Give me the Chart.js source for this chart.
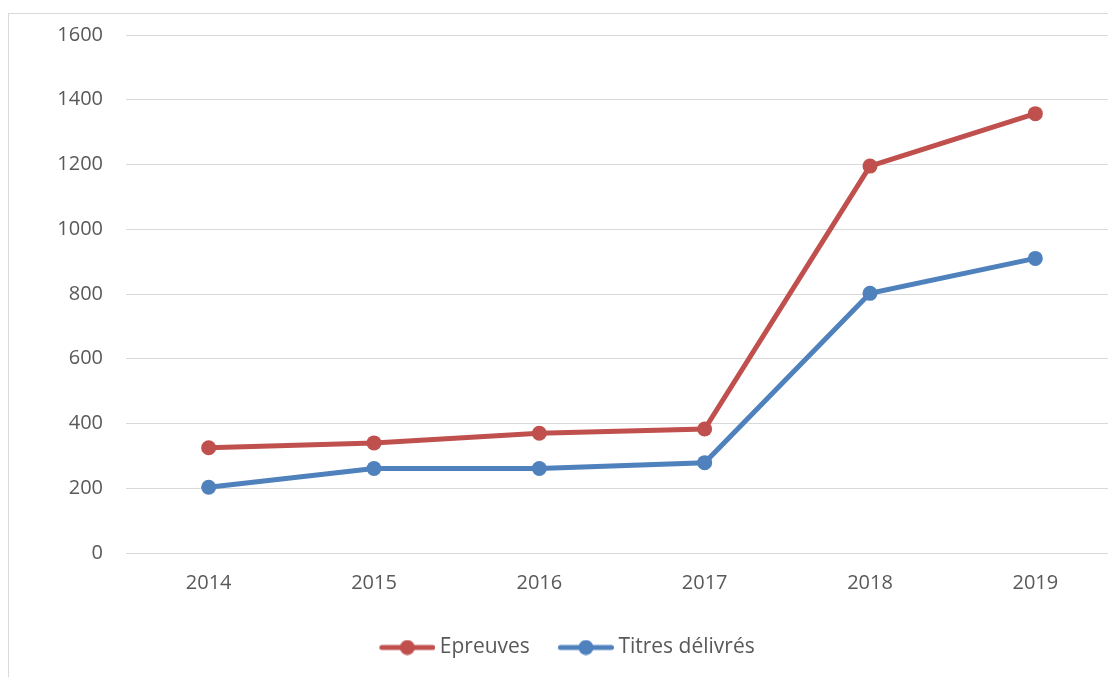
<!DOCTYPE html>
<html>
<head>
<meta charset="utf-8">
<script src="https://cdn.jsdelivr.net/npm/chart.js@4"></script>
<style>
  html, body { margin: 0; padding: 0; background: #fff; overflow: hidden; width: 1108px; height: 677px; }
  #frame { position: absolute; left: 8px; top: 13px; width: 1130px; height: 700px; border: 1px solid #d9d9d9; box-sizing: border-box; }
  #wrap { position: absolute; left: 0; top: 0; width: 1140px; height: 700px; }
</style>
</head>
<body>
<div id="frame"></div>
<div id="wrap"><canvas id="c"></canvas></div>
<script>
const categories = ['2014', '2015', '2016', '2017', '2018', '2019'];
const epreuves = [325, 340, 370, 383, 1195, 1357];
const titres = [203, 261, 261, 279, 802, 910];
const seriesNames = ['Epreuves', 'Titres délivrés'];
const yTicks = [0, 200, 400, 600, 800, 1000, 1200, 1400, 1600];

const RED = '#C0504D';
const BLUE = '#4F81BD';
const TEXT = '#595959';
const GRID = '#d9d9d9';
const FONT = "'Open Sans', 'Noto Sans', sans-serif";

function legendIcon(color) {
  const w = 62, h = 16, off = 6;
  const cv = document.createElement('canvas');
  cv.width = w; cv.height = h;
  const ctx = cv.getContext('2d');
  ctx.strokeStyle = color; ctx.lineWidth = 5; ctx.lineCap = 'round';
  ctx.beginPath(); ctx.moveTo(off + 2.5, h / 2); ctx.lineTo(w - 2.5, h / 2); ctx.stroke();
  ctx.fillStyle = color;
  ctx.beginPath(); ctx.arc(off + 28, h / 2, 7.5, 0, Math.PI * 2); ctx.fill();
  return cv;
}
const icons = [legendIcon(RED), legendIcon(BLUE)];

new Chart(document.getElementById('c'), {
  type: 'line',
  data: {
    labels: categories,
    datasets: [
      { label: seriesNames[0], data: epreuves, borderColor: RED, backgroundColor: RED,
        borderWidth: 5, pointRadius: 7.5, pointHoverRadius: 7.5, pointBackgroundColor: RED,
        pointBorderWidth: 0, tension: 0, pointStyle: 'circle' },
      { label: seriesNames[1], data: titres, borderColor: BLUE, backgroundColor: BLUE,
        borderWidth: 5, pointRadius: 7.5, pointHoverRadius: 7.5, pointBackgroundColor: BLUE,
        pointBorderWidth: 0, tension: 0, pointStyle: 'circle' }
    ]
  },
  options: {
    responsive: true,
    maintainAspectRatio: false,
    animation: false,
    layout: { padding: { left: 16, right: 22, top: 20, bottom: 32 } },
    plugins: {
      tooltip: { enabled: false },
      legend: {
        position: 'bottom',
        labels: {
          font: { family: FONT, size: 21 },
          color: TEXT,
          usePointStyle: true,
          pointStyleWidth: 50,
          boxHeight: 16,
          padding: 28,
          generateLabels(chart) {
            return chart.data.datasets.map((ds, i) => ({
              text: ds.label,
              fillStyle: ds.borderColor,
              strokeStyle: ds.borderColor,
              lineWidth: 0,
              pointStyle: icons[i],
              hidden: false,
              datasetIndex: i,
              fontColor: TEXT
            }));
          }
        }
      }
    },
    scales: {
      x: {
        offset: true,
        grid: { display: false, drawTicks: false, offset: true },
        border: { display: true, color: GRID, width: 1 },
        afterFit(scale) { scale.height = 56; },
        ticks: { font: { family: FONT, size: 20 }, color: TEXT, padding: 18 }
      },
      y: {
        min: 0, max: 1600,
        afterBuildTicks(scale) { scale.ticks = yTicks.map(v => ({ value: v })); },
        afterFit(scale) { scale.width = 110; },
        grid: { color: GRID, lineWidth: 1, drawTicks: false },
        border: { display: false },
        ticks: { font: { family: FONT, size: 20 }, color: TEXT, padding: 23,
                 callback: (v) => String(v) }
      }
    }
  }
});
</script>
</body>
</html>
